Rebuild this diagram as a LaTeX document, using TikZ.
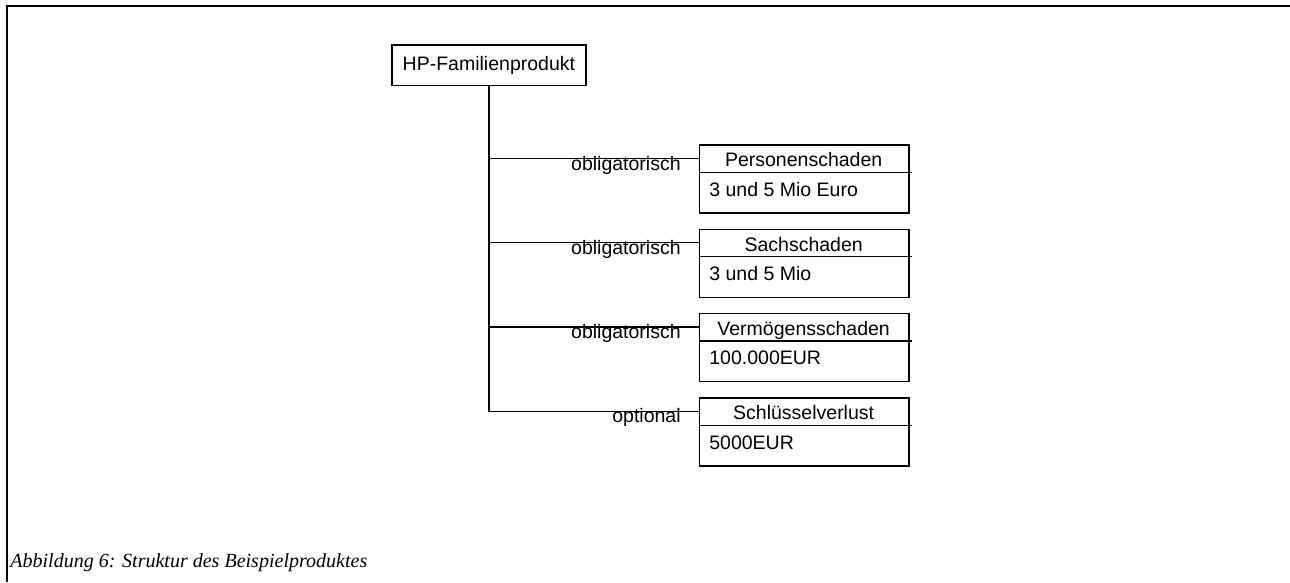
\documentclass[tikz,border=0pt]{standalone}
\usepackage{fontspec}
\setmainfont{Liberation Sans}
\newfontfamily\capfont{Liberation Serif}
\usepackage{tikz}

\begin{document}
\begin{tikzpicture}[x=0.02cm,y=-0.02cm,
  box/.style={draw,line width=0.8pt,inner sep=0pt},
  txt/.style={font=\fontsize{11.1}{13}\selectfont,inner sep=0pt}]
 \useasboundingbox (0,0) rectangle (1290,582);
 \draw [line width=1.1pt](7,582)--(7,6)--(1290,6);
 \node[box,txt,minimum width=3.88cm,minimum height=0.814cm] (root) at (488.9,65.35) {HP-Familienprodukt};
 \foreach \name/\hd/\val/\kind [count=\i from 0] in {pers/Personenschaden/3 und 5 Mio Euro/obligatorisch,
   sach/Sachschaden/3 und 5 Mio/obligatorisch, verm/Vermögensschaden/100.000EUR/obligatorisch,
   schl/Schlüsselverlust/5000EUR/optional}{
  \pgfmathsetmacro\ytop{144.3+84.3*\i}
  \node[box,anchor=north west,minimum width=4.186cm,minimum height=1.36cm] (\name) at (699,\ytop) {};
  \draw[line width=0.8pt]([yshift=-0.56cm]\name.north west)--([xshift=0.05cm,yshift=-0.56cm]\name.north east);
  \node[txt,anchor=base] (\name-hd) at (803.65,\ytop+22.4) {\hd};
  \node[txt,anchor=base west] (\name-val) at (709,\ytop+52) {\val};
  \coordinate (\name-in) at (699,\ytop+14);
  \draw[line width=0.8pt](root.south) |- (\name-in);
  \node[txt,anchor=base east] (\name-kind) at (681,\ytop+25.7) {\kind};
 }
 \node[anchor=base west,inner sep=0pt,font=\capfont\itshape\fontsize{11.4}{14}\selectfont] (caption) at (10,567) {Abbildung 6: Struktur des Beispielproduktes};
\end{tikzpicture}
\end{document}
